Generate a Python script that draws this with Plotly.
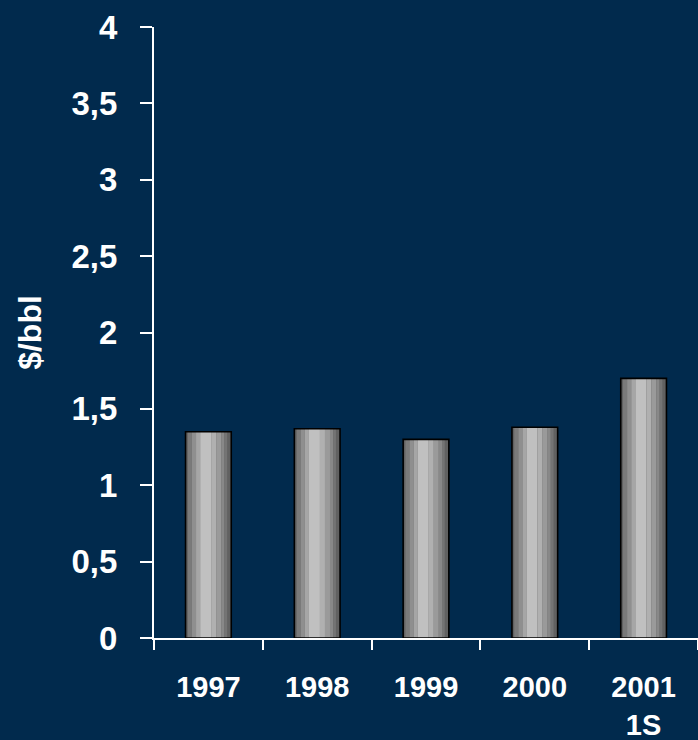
import plotly.graph_objects as go

# Annual values in $/bbl
years = ["1997", "1998", "1999", "2000", "2001<br>1S"]
values = [1.35, 1.37, 1.30, 1.38, 1.70]

y_ticks = [0, 0.5, 1, 1.5, 2, 2.5, 3, 3.5, 4]
y_tick_text = ["0", "0,5", "1", "1,5", "2", "2,5", "3", "3,5", "4"]

BG = "#012a4d"
BAR_W = 0.42

# Vertical shading bands across each bar: (start, end) as fraction of bar width, colour
bands = [
    (0.00, 1.00, "#616161"),
    (0.05, 0.14, "#7a7a7a"),
    (0.14, 0.23, "#8f8f8f"),
    (0.23, 0.32, "#a6a6a6"),
    (0.32, 0.56, "#c0c0c0"),
    (0.56, 0.67, "#b0b0b0"),
    (0.67, 0.78, "#9a9a9a"),
    (0.78, 0.85, "#888888"),
    (0.85, 0.91, "#747474"),
]

fig = go.Figure()
for a, b, col in bands:
    fig.add_trace(go.Bar(
        x=years, y=values,
        width=[(b - a) * BAR_W] * len(years),
        offset=[-BAR_W / 2 + a * BAR_W] * len(years),
        marker=dict(color=col, line=dict(width=0)),
        hoverinfo="skip", showlegend=False,
    ))

# Outline on top
fig.add_trace(go.Bar(
    x=years, y=values,
    width=[BAR_W] * len(years),
    offset=[-BAR_W / 2] * len(years),
    marker=dict(color="rgba(0,0,0,0)", line=dict(color="black", width=1.6)),
    showlegend=False,
))

fig.update_layout(
    width=698, height=740,
    margin=dict(l=154, r=0, t=27, b=102),
    paper_bgcolor=BG, plot_bgcolor=BG,
    barmode="overlay",
    font=dict(family="Liberation Sans, Arial, sans-serif", color="white"),
)

fig.update_xaxes(
    type="category",
    showgrid=False, zeroline=False,
    showline=True, linecolor="white", linewidth=2,
    ticks="outside", tickson="boundaries", ticklen=10, tickwidth=2, tickcolor="white",
    tickfont=dict(size=29, family="Liberation Sans, Arial, sans-serif", color="white", weight="bold"),
    ticklabelstandoff=22,
)

fig.update_yaxes(
    range=[0, 4],
    tickvals=y_ticks, ticktext=y_tick_text,
    showgrid=False, zeroline=False,
    showline=True, linecolor="white", linewidth=2,
    ticks="outside", ticklen=12, tickwidth=2, tickcolor="white",
    tickfont=dict(size=33, family="Liberation Sans, Arial, sans-serif", color="white", weight="bold"),
    ticklabelstandoff=16,
    title=dict(text="$/bbl", standoff=20,
               font=dict(size=32, family="Liberation Sans, Arial, sans-serif", color="white", weight="bold")),
)

fig.write_html("out.html")
